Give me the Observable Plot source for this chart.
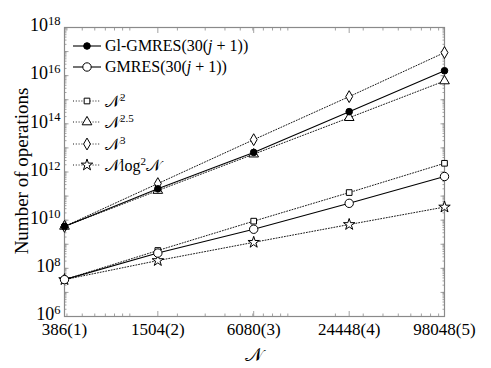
<!DOCTYPE html>
<html>
<head>
<meta charset="utf-8">
<script src="https://cdn.jsdelivr.net/npm/d3@7"></script>
<script src="https://cdn.jsdelivr.net/npm/@observablehq/plot@0.6"></script>
<style>
  html, body { margin: 0; padding: 0; background: white; }
  #wrap { position: relative; width: 491px; height: 368px; font-family: "Liberation Serif", "DejaVu Serif", serif; color: #000; }
  .lg { position: absolute; display: flex; align-items: center; height: 20px; font-size: 16px; white-space: nowrap; }
  .lg svg { margin-right: 3px; }
  .cal { font-family: "DejaVu Sans", "Noto Sans", serif; font-style: normal; }
  sup { font-size: 11px; vertical-align: 6px; line-height: 0; }
</style>
</head>
<body>
<div id="wrap"></div>
<script>
// ---- data ----
const xTicks = [386, 1504, 6080, 24448, 98048];
const xTickLabels = ["386(1)", "1504(2)", "6080(3)", "24448(4)", "98048(5)"];
const yTicks = [1e6, 1e8, 1e10, 1e12, 1e14, 1e16, 1e18];
const glGmres   = [5.5e9, 2.0e11, 6.5e12, 3.2e14, 1.6e16];
const gmres     = [3.4e7, 4.3e8, 4.2e9, 5.0e10, 6.5e11];
const refN2     = [3.4e7, 5.5e8, 9.1e9, 1.4e11, 2.3e12];
const refN25    = [5.5e9, 1.7e11, 5.5e12, 1.8e14, 6.0e15];
const refN3     = [5.5e9, 3.3e11, 2.2e13, 1.35e15, 9.1e16];
const refNlog2N = [3.4e7, 2.1e8, 1.2e9, 6.6e9, 3.5e10];
const seriesNames = ["Gl-GMRES(30(j+1))", "GMRES(30(j+1))", "N^2", "N^2.5", "N^3", "N log^2 N"];
const yTitle = "Number of operations";
const xTitle = "𝒩";

// minor tick positions (log scale)
const yMinor = [];
for (let e = 6; e < 18; e++) for (let m = 1; m < 10; m++) yMinor.push(m * 10 ** e);
yMinor.push(1e18);
const yDecades = d3.range(6, 19).map(e => 10 ** e);
const xMinor = [];
for (let e = 2; e < 5; e++) for (let m = 1; m < 10; m++) { const v = m * 10 ** e; if (v > 386 && v < 98048) xMinor.push(v); }

const rows = (vals, name) => vals.map((v, i) => ({N: xTicks[i], ops: v, series: name}));
const solid = [...rows(glGmres, seriesNames[0]), ...rows(gmres, seriesNames[1])];
const dotted = [...rows(refN2, seriesNames[2]), ...rows(refN25, seriesNames[3]), ...rows(refN3, seriesNames[4]), ...rows(refNlog2N, seriesNames[5])];
const xLabelRows = xTicks.map((t, i) => ({N: t, label: xTickLabels[i]}));

const frameColor = "#8a8a8a";
const tk = (anchor, axis, ticks, size) => {
  const off = anchor === "left" ? {dx: size} : anchor === "right" ? {dx: -size} : anchor === "bottom" ? {dy: -size} : {dy: size};
  const o = {anchor, ticks, tickSize: size, tickFormat: () => "", label: null, stroke: frameColor, strokeWidth: 0.8, ...off};
  return axis === "x" ? Plot.axisX(o) : Plot.axisY(o);
};

const chart = Plot.plot({
  width: 491, height: 368,
  marginLeft: 64, marginRight: 47, marginTop: 27, marginBottom: 52,
  x: {type: "log", domain: [386, 98048]},
  y: {type: "log", domain: [1e6, 1e18]},
  style: {fontFamily: "Liberation Serif, DejaVu Serif, serif", background: "white", color: "black"},
  marks: [
    tk("left", "y", yMinor, 2.5), tk("right", "y", yMinor, 2.5),
    tk("left", "y", yDecades, 4.5), tk("right", "y", yDecades, 4.5),
    tk("bottom", "x", xMinor, 2.5), tk("top", "x", xMinor, 2.5),
    tk("bottom", "x", xTicks, 5), tk("top", "x", xTicks, 5),
    Plot.frame({stroke: frameColor, strokeWidth: 1.2}),
    Plot.text(xLabelRows, {x: "N", text: "label", frameAnchor: "bottom", dy: 18, fontSize: 17, fill: "black"}),
    Plot.axisY({ticks: yTicks, tickSize: 0, tickPadding: 4, dy: -2, tickFormat: d => "E" + Math.round(Math.log10(d)), label: null, fontSize: 18}),
    Plot.line(dotted, {x: "N", y: "ops", z: "series", stroke: "black", strokeWidth: 0.9, strokeDasharray: "1,1.8"}),
    Plot.line(solid, {x: "N", y: "ops", z: "series", stroke: "black", strokeWidth: 1.1}),
    Plot.dot(rows(refN2, seriesNames[2]), {x: "N", y: "ops", symbol: "square", r: 3.2, stroke: "black", fill: "white", strokeWidth: 1}),
    Plot.dot(rows(refN25, seriesNames[3]), {x: "N", y: "ops", symbol: "triangle", r: 3.6, stroke: "black", fill: "white", strokeWidth: 1}),
    Plot.dot(rows(refN3, seriesNames[4]), {x: "N", y: "ops", symbol: "diamond", r: 3.6, stroke: "black", fill: "white", strokeWidth: 1}),
    Plot.dot(rows(refNlog2N, seriesNames[5]), {x: "N", y: "ops", symbol: "star", r: 3.6, stroke: "black", fill: "white", strokeWidth: 1}),
    Plot.dot(rows(gmres, seriesNames[1]), {x: "N", y: "ops", symbol: "circle", r: 4.2, stroke: "black", fill: "white", strokeWidth: 1}),
    Plot.dot(rows(glGmres, seriesNames[0]), {x: "N", y: "ops", symbol: "circle", r: 3.3, stroke: "black", fill: "black", strokeWidth: 1})
  ]
});

const wrap = document.getElementById("wrap");
wrap.appendChild(chart);

// drop empty tick-label texts; superscript exponents on y tick labels
d3.select(chart).selectAll("text").each(function() {
  const s = this.textContent;
  if (s === "") { this.remove(); return; }
  if (/^E\d+$/.test(s)) {
    const t = d3.select(this);
    t.text("10");
    t.append("tspan").attr("dy", "-0.5em").attr("font-size", 12.5).text(s.slice(1));
  }
});

// axis titles
const yt = document.createElement("div");
yt.textContent = yTitle;
Object.assign(yt.style, {position: "absolute", left: "22px", top: "171px", transform: "translate(-50%,-50%) rotate(-90deg)", fontSize: "19px", whiteSpace: "nowrap"});
wrap.appendChild(yt);
const xt = document.createElement("div");
xt.textContent = xTitle;
xt.className = "cal";
Object.assign(xt.style, {position: "absolute", left: "254px", top: "354px", transform: "translate(-50%,-50%)", fontSize: "19px"});
wrap.appendChild(xt);

// legend
const legendRows = [
  {top: 46, sym: "circle", fill: "black", dash: null, r: 3.3, html: 'Gl-GMRES(30(<i>j</i> + 1))'},
  {top: 67, sym: "circle", fill: "white", dash: null, r: 4.2, html: 'GMRES(30(<i>j</i> + 1))'},
  {top: 101, sym: "square", fill: "white", dash: "1,1.8", r: 3.2, html: '<span class="cal">𝒩</span><sup>2</sup>'},
  {top: 122, sym: "triangle", fill: "white", dash: "1,1.8", r: 3.6, html: '<span class="cal">𝒩</span><sup>2.5</sup>'},
  {top: 144, sym: "diamond", fill: "white", dash: "1,1.8", r: 3.6, html: '<span class="cal">𝒩</span><sup>3</sup>'},
  {top: 165, sym: "star", fill: "white", dash: "1,1.8", r: 3.6, html: '<span class="cal">𝒩</span>log<sup>2</sup><span class="cal">𝒩</span>'}
];
const symMap = {circle: d3.symbolCircle, square: d3.symbolSquare, triangle: d3.symbolTriangle, diamond: d3.symbolDiamond, star: d3.symbolStar};
for (const r of legendRows) {
  const div = document.createElement("div");
  div.className = "lg";
  div.style.left = "72px";
  div.style.top = (r.top - 10) + "px";
  const svg = d3.create("svg").attr("width", 30).attr("height", 20);
  svg.append("line").attr("x1", 1).attr("x2", 29).attr("y1", 10).attr("y2", 10)
    .attr("stroke", "black").attr("stroke-width", r.dash ? 0.9 : 1.1).attr("stroke-dasharray", r.dash);
  svg.append("path").attr("transform", "translate(15,10)")
    .attr("d", d3.symbol(symMap[r.sym], Math.PI * r.r * r.r)())
    .attr("fill", r.fill).attr("stroke", "black").attr("stroke-width", 1);
  div.appendChild(svg.node());
  const span = document.createElement("span");
  span.innerHTML = r.html;
  div.appendChild(span);
  wrap.appendChild(div);
}
</script>
</body>
</html>
